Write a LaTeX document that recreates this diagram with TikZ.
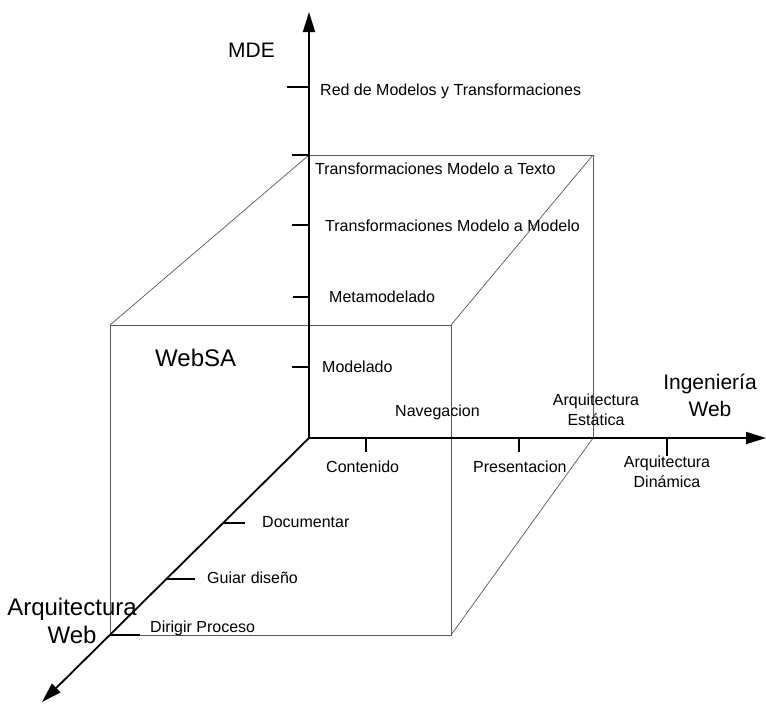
\documentclass[tikz,border=0pt]{standalone}
\usepackage{fontspec}
\setmainfont{Liberation Sans}
\usetikzlibrary{arrows.meta}

\tikzset{
  axisline/.style={line width=1.8pt, -{Triangle[length=20pt,width=12pt]}},
  tickline/.style={line width=1.5pt},
  cubeedge/.style={line width=0.7pt, black!65},
  lbl/.style={inner sep=0pt, anchor=base west, font=\fontsize{16}{20}\selectfont},
  lblc/.style={inner sep=0pt, anchor=base, align=center, font=\fontsize{16}{20}\selectfont},
  biglbl/.style={inner sep=0pt, font=\fontsize{21}{27}\selectfont},
  hugelbl/.style={inner sep=0pt, font=\fontsize{24}{28}\selectfont},
}

\begin{document}
\begin{tikzpicture}[x=1pt,y=-1pt]
\useasboundingbox (0,0) rectangle (766,705);

% origin and axis ends
\coordinate (O) at (309,438);
\coordinate (ztip) at (309,12);
\coordinate (xtip) at (766,438);
\coordinate (ytip) at (42,702);

% cube: back face corners
\coordinate (bTL) at (309,155);
\coordinate (bTR) at (593,155);
\coordinate (bBR) at (593,438);
% cube: front face corners
\coordinate (fTL) at (110,325);
\coordinate (fTR) at (451,325);
\coordinate (fBR) at (451,635);
\coordinate (fBL) at (110,635);

\draw[cubeedge] (bTL) -- (bTR) -- (bBR);
\draw[cubeedge] (fTL) -- (fTR) -- (fBR) -- (fBL) -- cycle;
\draw[cubeedge] (bTL) -- (fTL);
\draw[cubeedge] (bTR) -- (fTR);
\draw[cubeedge] (bBR) -- (fBR);

% axes
\draw[axisline] (O) -- (ztip);
\draw[axisline] (O) -- (xtip);
\draw[axisline] (O) -- (ytip);

% ticks on the MDE axis
\coordinate (zt1a) at (287,87);  \coordinate (zt1b) at (309,87);
\coordinate (zt2a) at (292,155); \coordinate (zt2b) at (309,155);
\coordinate (zt3a) at (292,225); \coordinate (zt3b) at (309,225);
\coordinate (zt4a) at (293,297); \coordinate (zt4b) at (309,297);
\coordinate (zt5a) at (292,367); \coordinate (zt5b) at (309,367);
\foreach \i in {1,...,5} \draw[tickline] (zt\i a) -- (zt\i b);

% ticks on the Ingenieria Web axis
\coordinate (xt1a) at (366,438); \coordinate (xt1b) at (366,452);
\coordinate (xt2a) at (519,438); \coordinate (xt2b) at (519,452);
\coordinate (xt3a) at (667,438); \coordinate (xt3b) at (667,456);
\foreach \i in {1,2,3} \draw[tickline] (xt\i a) -- (xt\i b);

% ticks on the Arquitectura Web axis
\coordinate (yt1a) at (223,523); \coordinate (yt1b) at (245,523);
\coordinate (yt2a) at (167,579); \coordinate (yt2b) at (195,579);
\coordinate (yt3a) at (110,635); \coordinate (yt3b) at (140,635);
\foreach \i in {1,2,3} \draw[tickline] (yt\i a) -- (yt\i b);

% axis titles (two-line nodes sit on the baseline of their last line)
\node[biglbl, anchor=base west] (mde) at (228,57) {MDE};
\node[biglbl, anchor=base, align=center] (ingweb) at (710,416) {Ingeniería\\Web};
\node[hugelbl, anchor=base, align=center] (arqweb) at (72,643) {Arquitectura\\Web};
\node[hugelbl, anchor=base west] (websa) at (155,366) {WebSA};

% MDE levels
\node[lbl] (red) at (320,95) {Red de Modelos y Transformaciones};
\node[lbl] (m2t) at (315,174) {Transformaciones Modelo a Texto};
\node[lbl] (m2m) at (325,231) {Transformaciones Modelo a Modelo};
\node[lbl] (meta) at (329,302) {Metamodelado};
\node[lbl] (mod) at (322,372) {Modelado};

% web engineering concerns
\node[lbl] (nav) at (395,416) {Navegacion};
\node[lblc] (estat) at (596,425) {Arquitectura\\Estática};
\node[lbl] (cont) at (326,472) {Contenido};
\node[lbl] (pres) at (473,472) {Presentacion};
\node[lblc] (dinam) at (667,487) {Arquitectura\\Dinámica};

% architecture roles
\node[lbl] (doc) at (262,527) {Documentar};
\node[lbl] (guiar) at (207,583) {Guiar diseño};
\node[lbl] (dirigir) at (150,632) {Dirigir Proceso};
\end{tikzpicture}
\end{document}
